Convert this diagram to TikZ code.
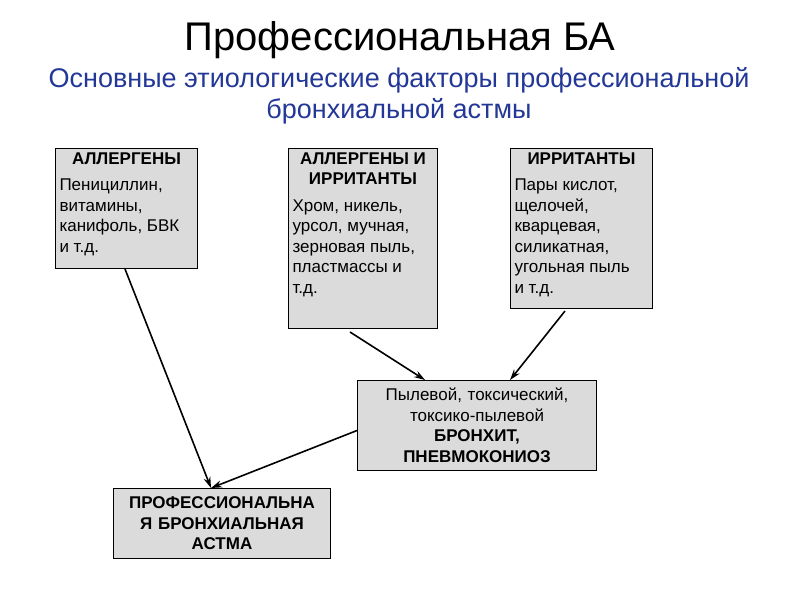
\documentclass[tikz,border=0pt]{standalone}
\usepackage{fontspec}
\setmainfont{Liberation Sans}
\usetikzlibrary{calc,arrows.meta}
\definecolor{subblue}{RGB}{35,55,150}
\newcommand{\bx}[3]{\parbox[t][#2][t]{#1}{#3}}
\begin{document}
\begin{tikzpicture}[x=1pt,y=-1pt,
 box/.style={draw,fill=black!14,line width=1pt,anchor=north west,inner sep=4pt,font=\fontsize{17}{20.5}\selectfont},
 arr/.style={-{Stealth[length=11pt,width=7pt]},line width=1.6pt}]
\useasboundingbox (0,0) rectangle (794,595);
\node (title) at (400,40) {\fontsize{40}{46}\selectfont Профессиональная БА};
\node[align=center,text=subblue,font=\fontsize{27}{31}\selectfont] (sub) at (399,96) {Основные этиологические факторы профессиональной\\бронхиальной астмы};
\node[box] (b1) at (55,148) {\bx{134pt}{112pt}{{\centering\textbf{АЛЛЕРГЕНЫ}\par}\vspace{6pt}\raggedright Пенициллин,\\витамины,\\канифоль, БВК\\и т.д.}};
\node[box] (b2) at (288,148) {\bx{141pt}{172pt}{{\centering\textbf{АЛЛЕРГЕНЫ И}\\\textbf{ИРРИТАНТЫ}\par}\vspace{6pt}\raggedright Хром, никель,\\урсол, мучная,\\зерновая пыль,\\пластмассы и\\т.д.}};
\node[box] (b3) at (510,148) {\bx{134pt}{152pt}{{\centering\textbf{ИРРИТАНТЫ}\par}\vspace{6pt}\raggedright Пары кислот,\\щелочей,\\кварцевая,\\силикатная,\\угольная пыль\\и т.д.}};
\node[box,align=center,text width=231pt,minimum height=90pt] (b4) at (357,380) {Пылевой, токсический,\\токсико-пылевой\\\textbf{БРОНХИТ,}\\\textbf{ПНЕВМОКОНИОЗ}};
\node[box,align=center,text width=209pt,minimum height=70pt] (b5) at (113,488) {\textbf{ПРОФЕССИОНАЛЬНА}\\\textbf{Я БРОНХИАЛЬНАЯ}\\\textbf{АСТМА}};
\coordinate (t5) at ($(b5.north west)+(98,0)$);
\draw[arr] ($(b1.south west)+(70,0)$) -- (t5);
\draw[arr] ($(b4.west)+(0,5)$) -- (t5);
\draw[arr] ($(b2.south west)+(62,3)$) -- ($(b4.north west)+(68,0)$);
\draw[arr] ($(b3.south west)+(55,2)$) -- ($(b4.north west)+(153,0)$);
\end{tikzpicture}
\end{document}
